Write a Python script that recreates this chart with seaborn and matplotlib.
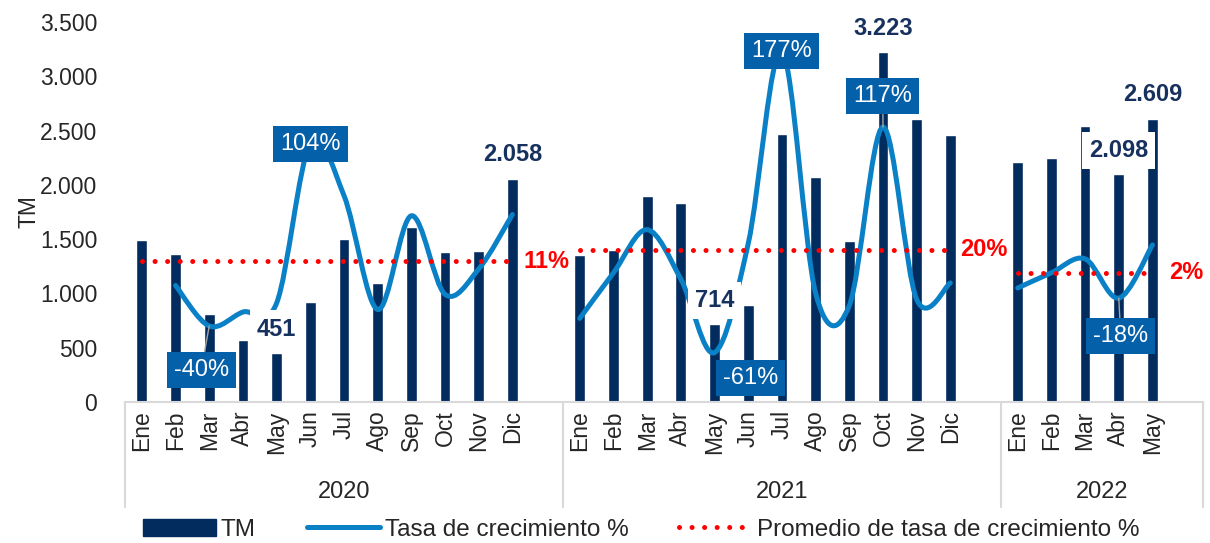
import numpy as np
import pandas as pd
import matplotlib
matplotlib.use('Agg')
import matplotlib.pyplot as plt
import seaborn as sns
from matplotlib.path import Path
from matplotlib.patches import PathPatch, Patch
from matplotlib.lines import Line2D
import matplotlib.transforms as mtransforms

# Data
years = ['2020', '2021', '2022']
months = ['Ene', 'Feb', 'Mar', 'Abr', 'May', 'Jun',
          'Jul', 'Ago', 'Sep', 'Oct', 'Nov', 'Dic']
tm_2020 = [1490, 1360, 810, 575, 451, 920, 1505, 1095, 1610, 1380, 1390, 2058]
tm_2021 = [1350, 1400, 1900, 1835, 714, 890, 2470, 2075, 1485, 3223, 2610, 2460]
tm_2022 = [2210, 2250, 2545, 2098, 2609]
tasa_2020 = [np.nan, -0.08, -0.40, -0.29, -0.22, 1.04, 0.63, -0.27, 0.47, -0.15, 0.05, 0.48]
tasa_2021 = [-0.34, 0.02, 0.36, -0.03, -0.61, 0.25, 1.77, -0.14, -0.24, 1.17, -0.19, -0.06]
tasa_2022 = [-0.10, 0.02, 0.13, -0.18, 0.24]
promedio = [0.11, 0.20, 0.02]
promedio_labels = ['11%', '20%', '2%']

NAVY = '#022B5E'
BLUE = '#0A80C6'
BOX = '#0560AA'
RED = '#FF0000'
GRID = '#D9D9D9'
FS = 16.5

# one empty slot after each year, like the original category axis
rows, order, groups = [], [], []
for year, tm, tasa in zip(years, [tm_2020, tm_2021, tm_2022],
                          [tasa_2020, tasa_2021, tasa_2022]):
    start = len(order)
    for m, v, g in zip(months, tm, tasa):
        key = f'{m} {year}'
        order.append(key)
        rows.append({'slot': key, 'year': year, 'mes': m, 'tm': v, 'tasa': g})
    order.append(f'- {year}')
    groups.append((year, start, len(order)))
df = pd.DataFrame(rows)
df['pos'] = df['slot'].map(order.index)

sns.set_style('white')
plt.rcParams['font.family'] = ['Liberation Sans', 'DejaVu Sans']
plt.rcParams['font.size'] = FS

fig = plt.figure(figsize=(12.1, 5.43), dpi=100)
ax = fig.add_axes([0.1033, 0.2597, 0.8909, 0.6998])

sns.barplot(data=df, x='slot', y='tm', order=order, color=NAVY, width=0.32,
            saturation=1, errorbar=None, ax=ax)
ax.set_xlim(-0.5, len(order) - 0.5)
ax.set_ylim(0, 3500)
ax.set_yticks(range(0, 3501, 500))
ax.set_yticklabels([f'{v:,}'.replace(',', '.') for v in range(0, 3501, 500)])
ax.tick_params(axis='y', length=0, pad=20, labelsize=FS)
ax.set_ylabel('TM', fontsize=FS)
ax.yaxis.set_label_coords(-0.078, 0.5)

ax.set_xticks(df['pos'])
ax.set_xticklabels(df['mes'], rotation=90, fontsize=FS)
ax.tick_params(axis='x', length=0, pad=6)
ax.set_xlabel('')
for s in ['left', 'top', 'right']:
    ax.spines[s].set_visible(False)
ax.spines['bottom'].set_color(GRID)
ax.spines['bottom'].set_linewidth(1.5)

# multi-level category axis: separators and year labels
trans = mtransforms.blended_transform_factory(ax.transData, ax.transAxes)
for year, start, end in groups:
    ax.plot([start - 0.5, start - 0.5], [0, -0.277], transform=trans,
            color=GRID, lw=1.5, clip_on=False)
    ax.text((start + end - 1) / 2, -0.237, year, transform=trans,
            ha='center', va='center', fontsize=FS + 0.5)
ax.plot([len(order) - 0.5] * 2, [0, -0.277], transform=trans,
        color=GRID, lw=1.5, clip_on=False)

# growth rate on a hidden secondary axis
ax2 = ax.twinx()
ax2.set_ylim(-1, 2)
ax2.axis('off')


def smooth_path(xs, ys):
    pts = np.column_stack([xs, ys]).astype(float)
    n = len(pts)
    verts, codes = [pts[0]], [Path.MOVETO]
    for i in range(n - 1):
        p0 = pts[i - 1] if i > 0 else pts[i]
        p1, p2 = pts[i], pts[i + 1]
        p3 = pts[i + 2] if i + 2 < n else pts[i + 1]
        verts += [p1 + (p2 - p0) / 6, p2 - (p3 - p1) / 6, p2]
        codes += [Path.CURVE4] * 3
    return Path(verts, codes)


for year in years:
    sub = df[(df['year'] == year) & df['tasa'].notna()]
    ax2.add_patch(PathPatch(smooth_path(sub['pos'], sub['tasa']), facecolor='none',
                            edgecolor=BLUE, lw=3.6, capstyle='round', zorder=3))

dots = (0, (0.01, 2.5))
for (year, start, end), avg, lab in zip(groups, promedio, promedio_labels):
    sub = df[df['year'] == year]
    sns.lineplot(x=sub['pos'], y=[avg] * len(sub), ax=ax2, color=RED, lw=3.6,
                 linestyle=dots, dash_capstyle='round', zorder=4)
    ax2.text(end - 1, avg, lab, color=RED, fontsize=FS + 0.5, fontweight='bold',
             ha='center', va='center', zorder=6)

# bar value labels
bar_labels = {('May', '2020'): True, ('Dic', '2020'): False, ('May', '2021'): True,
              ('Oct', '2021'): False, ('Abr', '2022'): True, ('May', '2022'): False}
for (m, year), boxed in bar_labels.items():
    r = df[(df['mes'] == m) & (df['year'] == year)].iloc[0]
    txt = f"{int(r['tm']):,}".replace(',', '.')
    bbox = dict(boxstyle='square,pad=0.3', fc='white', ec='none') if boxed else None
    ax2.annotate(txt, xy=(r['pos'], r['tm']), xycoords=ax.transData,
                 xytext=(0, 24), textcoords='offset pixels', ha='center', va='center',
                 fontsize=FS + 0.5, fontweight='bold', color='#17315E', bbox=bbox, zorder=7)

# growth rate labels (offsets in pixels, as placed in the original)
tasa_labels = [('Mar', '2020', (-8, -44), True), ('Jun', '2020', (0, 0), False),
               ('May', '2021', (36, -25), False), ('Jul', '2021', (0, 0), False),
               ('Oct', '2021', (0, 31), True), ('Abr', '2022', (2, -38), True)]
for m, year, off, leader in tasa_labels:
    r = df[(df['mes'] == m) & (df['year'] == year)].iloc[0]
    arrow = dict(arrowstyle='-', color='#A6A6A6', lw=1, shrinkA=0, shrinkB=0) if leader else None
    ax2.annotate(f"{r['tasa'] * 100:.0f}%", xy=(r['pos'], r['tasa']), xytext=off,
                 textcoords='offset pixels', ha='center', va='center', fontsize=FS + 0.5,
                 color='white', bbox=dict(boxstyle='square,pad=0.3', fc=BOX, ec='none'),
                 arrowprops=arrow, zorder=8)

handles = [Patch(color=NAVY),
           Line2D([], [], color=BLUE, lw=3.6, solid_capstyle='round'),
           Line2D([], [], color=RED, lw=3.6, linestyle=dots, dash_capstyle='round')]
fig.legend(handles, ['TM', 'Tasa de crecimiento %', 'Promedio de tasa de crecimiento %'],
           loc='center', bbox_to_anchor=(0.53, 0.024), ncol=3, frameon=False,
           fontsize=17.5, handlelength=3.0, handletextpad=0.2, columnspacing=2.1)

fig.savefig('out.png', dpi=100)
